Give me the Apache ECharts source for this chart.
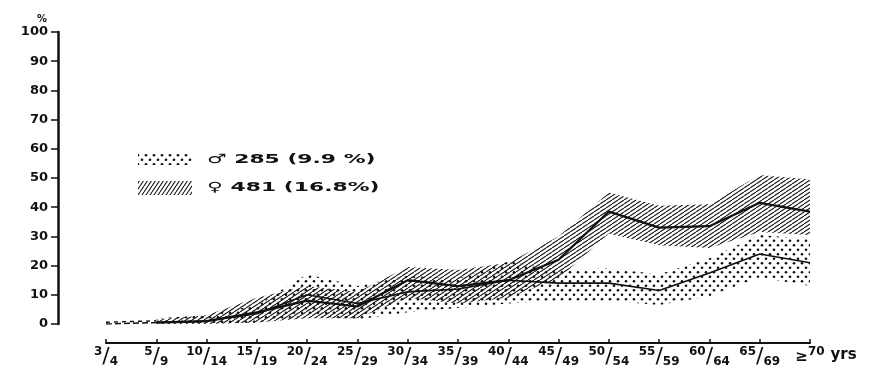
<!DOCTYPE html>
<html>
<head>
<meta charset="utf-8">
<script src="https://cdn.jsdelivr.net/npm/echarts@6/dist/echarts.min.js"></script>
<style>
  html, body { margin: 0; padding: 0; background: #fff; }
  #chart { width: 875px; height: 369px; }
</style>
</head>
<body>
<div id="chart"></div>
<script>
// Age groups (years)
const ageGroups = ['3/4', '5/9', '10/14', '15/19', '20/24', '25/29', '30/34', '35/39',
                   '40/44', '45/49', '50/54', '55/59', '60/64', '65/69', '≥70'];

// Percentage scale
const yMin = 0, yMax = 100, yStep = 10;

// Males: prevalence (%) with lower / upper confidence limits
const maleRate = [0, 0.5, 1, 3.5, 10, 7, 11, 12, 15, 14, 14, 11.5, 17.5, 24, 21];
const maleLow  = [null, 0, 0, 0.5, 3, 1.5, 4, 5.5, 7, 8, 8, 6.5, 9.5, 16, 13];
const maleHigh = [null, 2, 3, 6.5, 17, 13, 16.5, 15.5, 21.5, 18.5, 19, 17, 22.5, 30.5, 29];

// Females: prevalence (%) with lower / upper confidence limits
const femaleRate = [0, 0.5, 1, 4, 8, 6, 15, 13, 15, 22, 38.5, 33, 33.5, 41.5, 38.5];
const femaleLow  = [null, 0, 0, 0.5, 2, 2, 9, 7, 9, 15.5, 31, 27, 26, 31.5, 30.5];
const femaleHigh = [null, 1.5, 3, 9, 13, 11, 19.5, 18.5, 21, 30, 45, 40.5, 41, 51, 49.5];

// Legend entries
const maleLegend = '♂ 285 (9.9 %)';
const femaleLegend = '♀ 481 (16.8%)';

const INK = '#111';

// Fill patterns drawn on small canvases
function hatchPattern(w, h, lw, color) {
  const c = document.createElement('canvas');
  c.width = w; c.height = h;
  const ctx = c.getContext('2d');
  ctx.strokeStyle = color;
  ctx.lineWidth = lw;
  for (let k = -1; k <= 1; k++) {
    ctx.beginPath();
    ctx.moveTo(k * w, h);
    ctx.lineTo(k * w + w, 0);
    ctx.stroke();
  }
  return { image: c, repeat: 'repeat' };
}
function dotPattern(w, h, r) {
  const c = document.createElement('canvas');
  c.width = w; c.height = h;
  const ctx = c.getContext('2d');
  ctx.fillStyle = INK;
  [[w * 0.25, h * 0.25], [w * 0.75, h * 0.75]].forEach(([x, y]) => {
    ctx.beginPath();
    ctx.arc(x, y, r, 0, Math.PI * 2);
    ctx.fill();
  });
  return { image: c, repeat: 'repeat' };
}

const hatch = hatchPattern(6, 4, 1.1, '#1a1a1a');
const dots = dotPattern(8, 9, 1.3);
const hatchLegend = hatchPattern(4, 6, 1.1, '#1a1a1a');

const span = (lo, hi) => hi.map((v, i) => (v == null || lo[i] == null) ? null : +(v - lo[i]).toFixed(2));
const fromSecond = arr => arr.map((v, i) => (i === 0 ? null : v));
const firstSegment = arr => arr.map((v, i) => (i <= 1 ? v : null));

function axisFraction(value) {
  if (value.charAt(0) === '≥') return '{g|≥}{n|' + value.slice(1) + '}';
  const p = value.split('/');
  return '{n|' + p[0] + '}{s|/}{d|' + p[1] + '}';
}

const FONT = '"DejaVu Sans", "Liberation Sans", sans-serif';

const chart = echarts.init(document.getElementById('chart'), null, { renderer: 'canvas' });

const bandSeries = (name, stack, lo, hi, fill) => ([
  {
    name: name + ' low', type: 'line', stack: stack, data: lo, silent: true,
    symbol: 'none', lineStyle: { opacity: 0 }, z: 1
  },
  {
    name: name + ' range', type: 'line', stack: stack, data: span(lo, hi), silent: true,
    symbol: 'none', lineStyle: { opacity: 0 }, areaStyle: { color: fill, opacity: 1 }, z: 1
  }
]);

chart.setOption({
  animation: false,
  backgroundColor: '#fff',
  grid: { left: 106, right: 65, top: 32, bottom: 45 },
  xAxis: {
    type: 'category',
    data: ageGroups,
    boundaryGap: false,
    offset: 19,
    axisLine: { onZero: false, lineStyle: { color: INK, width: 2 } },
    axisTick: { show: true, inside: true, length: 4, lineStyle: { color: INK, width: 1.5 } },
    axisLabel: {
      interval: 0, margin: 3, color: INK,
      formatter: axisFraction,
      rich: {
        n: { fontFamily: FONT, fontWeight: 'bold', fontSize: 12, verticalAlign: 'top', lineHeight: 22 },
        d: { fontFamily: FONT, fontWeight: 'bold', fontSize: 12, verticalAlign: 'bottom', lineHeight: 22 },
        s: { fontFamily: FONT, fontWeight: 'normal', fontSize: 22, lineHeight: 22, verticalAlign: 'middle' },
        g: { fontFamily: FONT, fontWeight: 'bold', fontSize: 15, lineHeight: 22, verticalAlign: 'middle' }
      }
    },
    name: 'yrs',
    nameLocation: 'end',
    nameGap: 17,
    nameTextStyle: {
      fontFamily: FONT, fontWeight: 'bold', fontSize: 15, color: INK,
      verticalAlign: 'top', padding: [5, 0, 0, 0]
    },
    splitLine: { show: false }
  },
  yAxis: {
    type: 'value',
    min: yMin, max: yMax, interval: yStep,
    offset: 48,
    axisLine: { show: true, lineStyle: { color: INK, width: 2.5 } },
    axisTick: { show: true, length: 7, lineStyle: { color: INK, width: 1.5 } },
    axisLabel: { margin: 10, color: INK, fontFamily: FONT, fontWeight: 'bold', fontSize: 13 },
    splitLine: { show: false },
    name: '%',
    nameLocation: 'end',
    nameGap: 8,
    nameTextStyle: { fontFamily: FONT, fontWeight: 'bold', fontSize: 10, color: INK, align: 'right', padding: [0, 11, 0, 0] }
  },
  series: [
    ...bandSeries('male', 'm', maleLow, maleHigh, dots),
    ...bandSeries('female', 'f', femaleLow, femaleHigh, hatch),
    {
      name: 'male', type: 'line', data: fromSecond(maleRate), symbol: 'none', silent: true,
      lineStyle: { color: INK, width: 1.6 }, z: 3
    },
    {
      name: 'female', type: 'line', data: fromSecond(femaleRate), symbol: 'none', silent: true,
      lineStyle: { color: INK, width: 2.2 }, z: 3
    },
    {
      name: 'male start', type: 'line', data: firstSegment(maleRate), symbol: 'none', silent: true,
      lineStyle: { color: INK, width: 1.4, type: [6, 3] }, z: 3
    },
    {
      name: 'female start', type: 'line', data: firstSegment(femaleRate).map(v => v == null ? null : v + 0.6),
      symbol: 'none', silent: true,
      lineStyle: { color: INK, width: 1.4, type: [4, 4] }, z: 3
    }
  ],
  graphic: [
    { type: 'rect', shape: { x: 138, y: 152, width: 54, height: 13 }, style: { fill: dots, stroke: null } },
    { type: 'rect', shape: { x: 138, y: 181, width: 54, height: 14 }, style: { fill: hatchLegend, stroke: null } },
    {
      type: 'text', x: 207, y: 160, scaleX: 1.68,
      style: { text: maleLegend, x: 0, y: 0, fill: INK, font: 'bold 13px ' + FONT, verticalAlign: 'middle' }
    },
    {
      type: 'text', x: 207, y: 188, scaleX: 1.68,
      style: { text: femaleLegend, x: 0, y: 0, fill: INK, font: 'bold 13px ' + FONT, verticalAlign: 'middle' }
    }
  ]
});
</script>
</body>
</html>
